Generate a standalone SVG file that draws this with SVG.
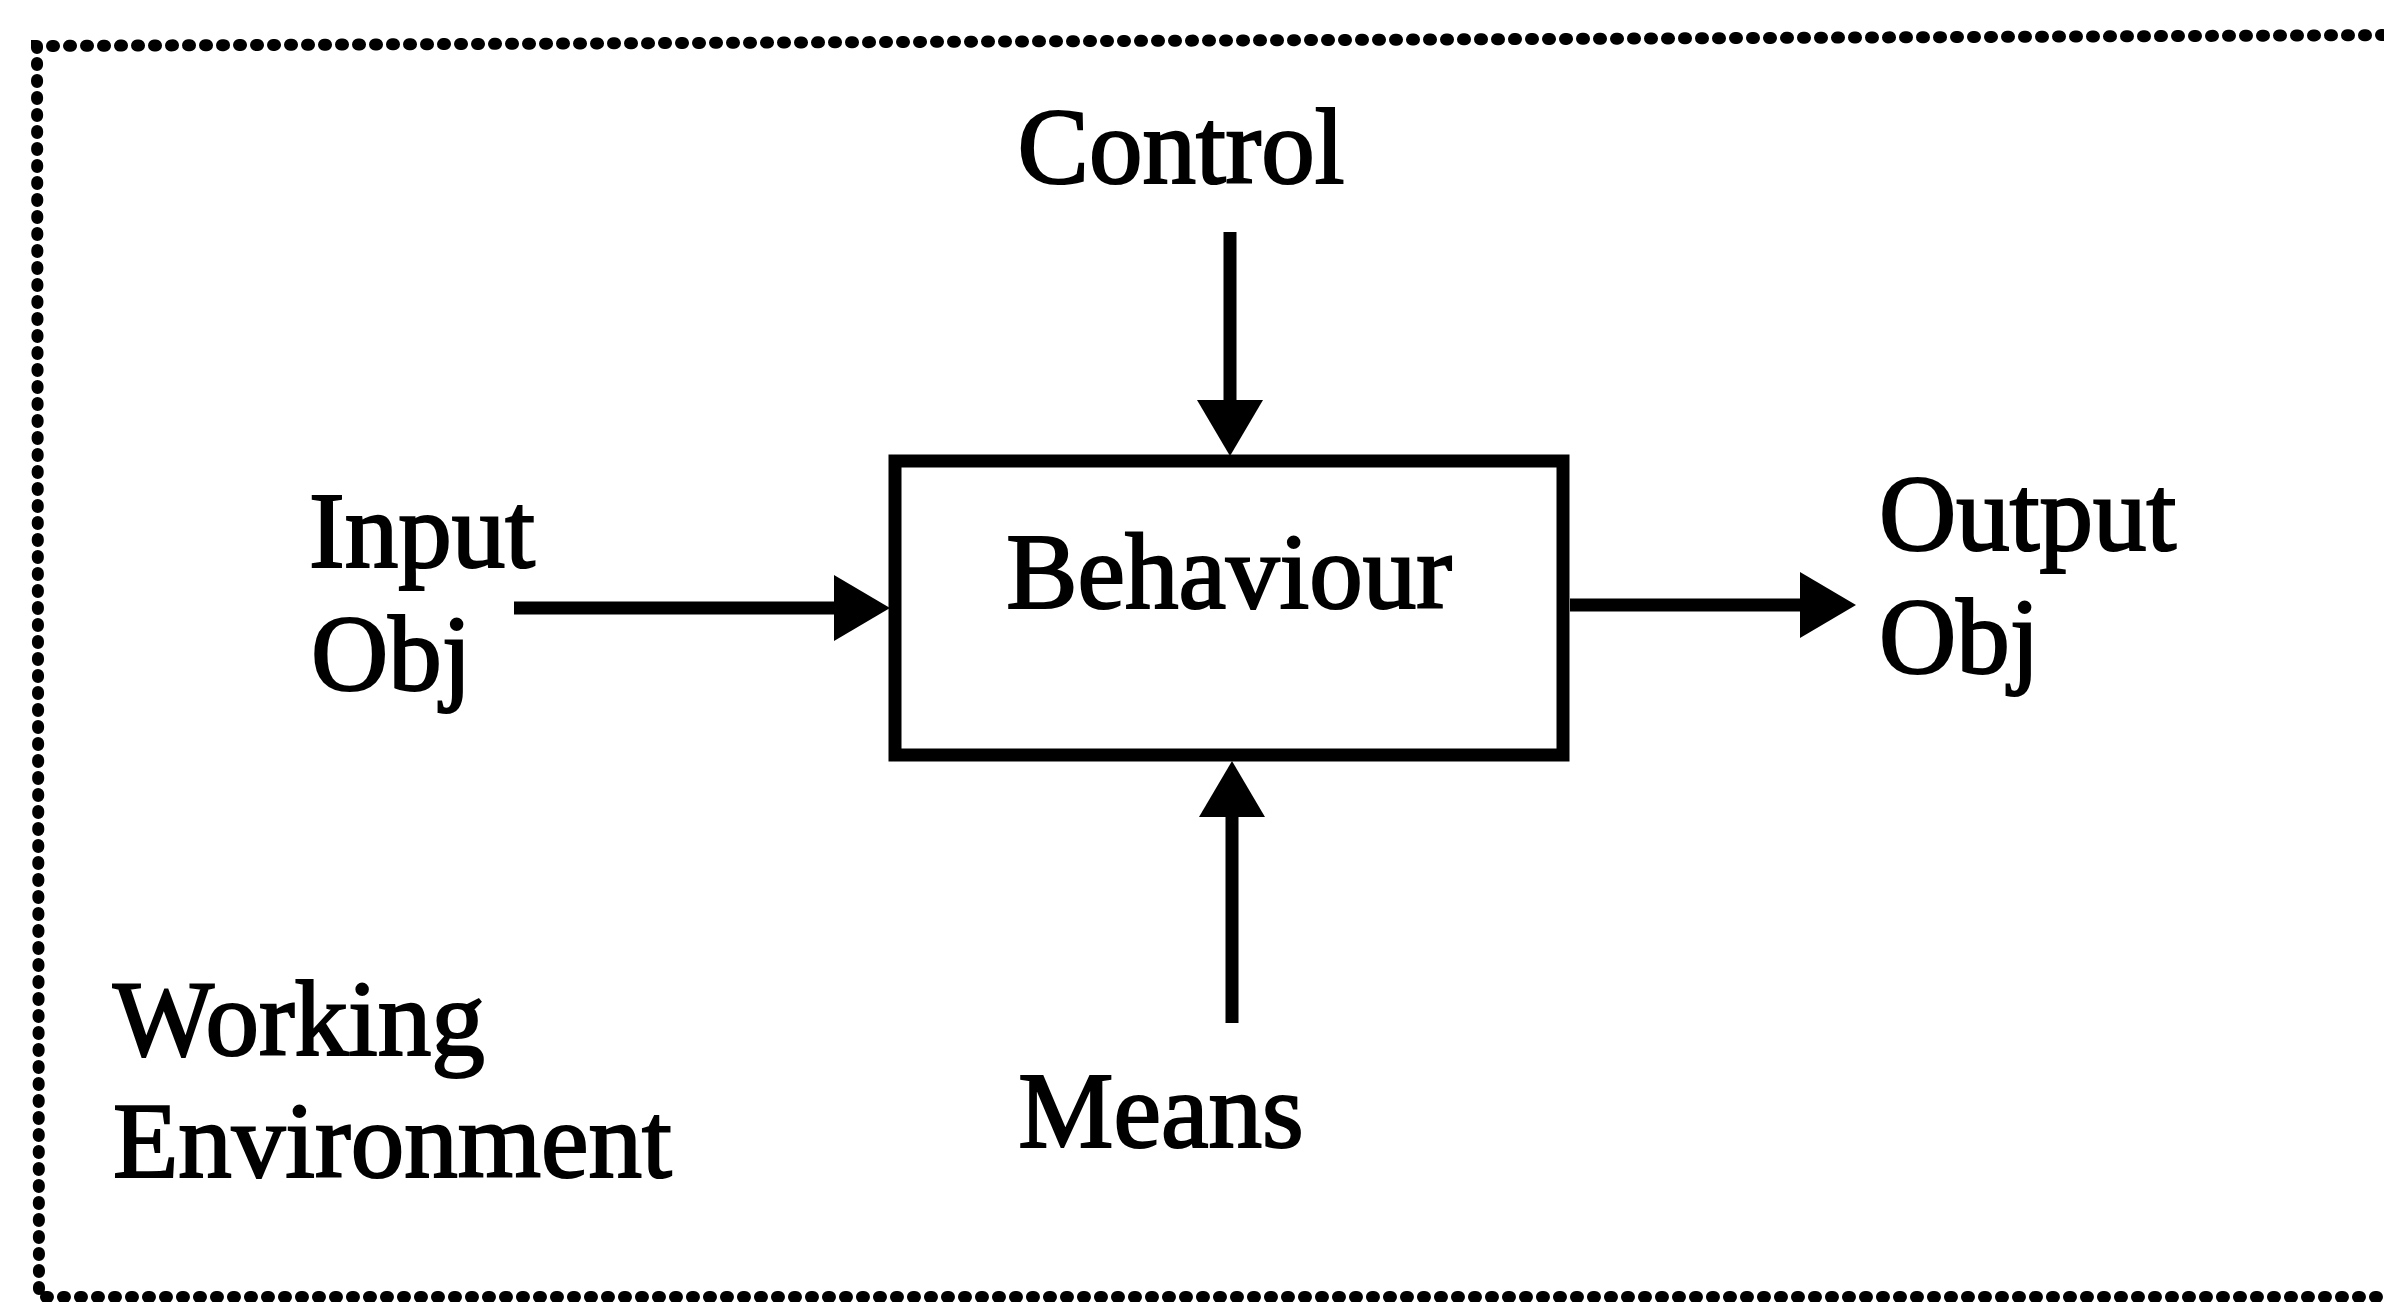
<svg xmlns="http://www.w3.org/2000/svg" width="2384" height="1302" viewBox="0 0 2384 1302">
  <style>
    .lbl { font-family: "Liberation Serif", "Times New Roman", serif; font-size: 107px; fill: #000; stroke: #000; stroke-width: 2.2; }
    .conn { stroke: #000; stroke-width: 13; fill: none; marker-end: url(#arrow); }
    .frame { stroke: #000; stroke-width: 12; fill: none; stroke-dasharray: 2 15; stroke-linecap: round; }
  </style>
  <defs>
    <marker id="arrow" viewBox="0 -34 58 68" refX="0" refY="0" markerWidth="58" markerHeight="68" markerUnits="userSpaceOnUse" orient="auto" overflow="visible">
      <path d="M0,-33 L56,0 L0,33 Z" fill="#000"/>
    </marker>
  </defs>
  <rect width="2384" height="1302" fill="#fff"/>

  <g id="environment">
    <path class="frame" d="M2400,35 L37,46 L39,1297 L2400,1297"/>
    <text class="lbl" x="113" y="1055">Working</text>
    <text class="lbl" x="113" y="1177">Environment</text>
  </g>

  <g id="behaviour">
    <rect x="895" y="461" width="668" height="294" fill="#fff" stroke="#000" stroke-width="13"/>
    <text class="lbl" x="1229" y="608" text-anchor="middle">Behaviour</text>
  </g>

  <g id="control">
    <text class="lbl" x="1181" y="183" text-anchor="middle">Control</text>
  </g>

  <g id="means">
    <text class="lbl" x="1161" y="1147" text-anchor="middle">Means</text>
  </g>

  <g id="input">
    <text class="lbl" x="309" y="567">Input</text>
    <text class="lbl" x="311" y="690">Obj</text>
  </g>

  <g id="output">
    <text class="lbl" x="1879" y="550">Output</text>
    <text class="lbl" x="1879" y="673">Obj</text>
  </g>

  <g id="connectors">
    <line class="conn" x1="1230" y1="232" x2="1230" y2="400"/>
    <line class="conn" x1="1232" y1="1023" x2="1232" y2="817"/>
    <line class="conn" x1="514" y1="608" x2="834" y2="608"/>
    <line class="conn" x1="1570" y1="605" x2="1800" y2="605"/>
  </g>
</svg>
